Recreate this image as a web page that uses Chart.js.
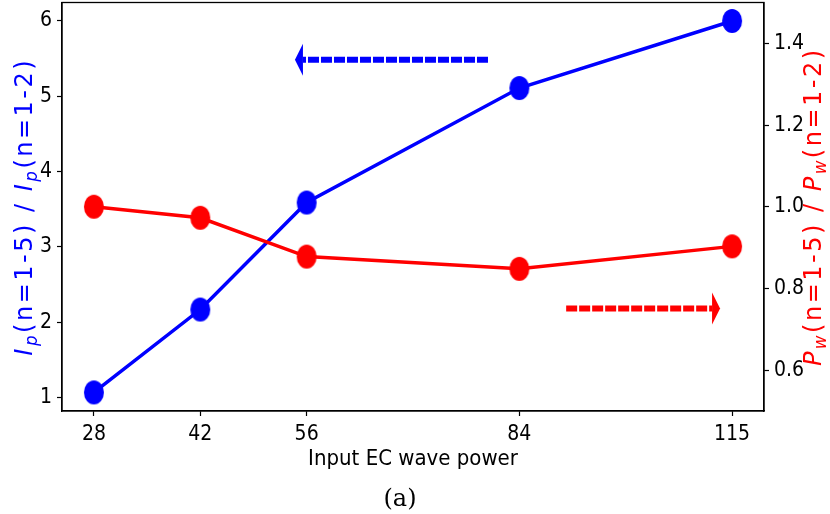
<!DOCTYPE html>
<html>
<head>
<meta charset="utf-8">
<script src="https://cdn.jsdelivr.net/npm/chart.js@4.4.1/dist/chart.umd.min.js"></script>
<style>
  body { margin: 0; background: #fff; overflow: hidden; }
  #wrap { position: relative; width: 830px; height: 514px; overflow: hidden; }
  #powerChart { position: absolute; left: 0; top: -5px; }
</style>
</head>
<body>
<div id="wrap"><canvas id="powerChart" width="830" height="519"></canvas></div>
<script>
// data
const powerLabels = ['28', '42', '56', '84', '115'];
const powerPos = [0, 1, 2, 4, 6];           // uneven spacing as in the figure
const ipRatio = [1.07, 2.17, 3.59, 5.11, 6.0];
const pwRatio = [1.0, 0.973, 0.878, 0.848, 0.903];
const leftTicks = [1, 2, 3, 4, 5, 6];
const rightTicks = [0.6, 0.8, 1.0, 1.2, 1.4];

// arrow annotations (data units)
const blueArrowX = [3.705, 1.89];
const blueArrowY = 5.484;
const redArrowX = [4.44, 5.887];
const redArrowY = 0.751;

const narrow = '"DejaVu Sans Condensed", "Liberation Sans Narrow", "DejaVu Sans"';
const sans = '"DejaVu Sans"';
const shiftY = 5; // canvas sits 5px above the page top

const makeDot = (color) => {
  let c = document.createElement('canvas');
  c.width = 22;
  c.height = 26;
  let g = c.getContext('2d');
  g.fillStyle = color;
  g.beginPath();
  g.ellipse(11, 13, 10, 12, 0, 0, Math.PI * 2);
  g.fill();
  return c;
};

const toPoints = (ys) => powerPos.map((x, i) => ({x: x, y: ys[i]}));

// draws mathtext-like label: pieces of [text, italic, subscript]
const drawMixed = (ctx, pieces, cx, cy, size, color) => {
  ctx.save();
  ctx.translate(cx, cy);
  ctx.rotate(-Math.PI / 2);
  ctx.fillStyle = color;
  ctx.textBaseline = 'alphabetic';
  ctx.letterSpacing = '2.5px';
  let fontFor = (p) => (p[1] ? 'oblique ' : '') + (p[2] ? size * 0.7 : size) + 'px ' + sans;
  let total = 0;
  pieces.forEach(p => { ctx.font = fontFor(p); total += ctx.measureText(p[0]).width; });
  let x = -total / 2;
  let base = size * 0.36;
  pieces.forEach(p => {
    ctx.font = fontFor(p);
    ctx.fillText(p[0], x, base + (p[2] ? size * 0.22 : 0));
    x += ctx.measureText(p[0]).width;
  });
  ctx.restore();
};

const drawArrow = (ctx, x0, x1, y, color) => {
  let dir = x1 > x0 ? 1 : -1;
  let headLen = 8;
  ctx.save();
  ctx.strokeStyle = color;
  ctx.fillStyle = color;
  ctx.lineWidth = 6;
  ctx.setLineDash([11, 2]);
  ctx.beginPath();
  ctx.moveTo(x0, y);
  ctx.lineTo(x1 - dir * headLen, y);
  ctx.stroke();
  ctx.setLineDash([]);
  ctx.beginPath();
  ctx.moveTo(x1, y);
  ctx.lineTo(x1 - dir * headLen, y - 16);
  ctx.lineTo(x1 - dir * headLen, y + 16);
  ctx.closePath();
  ctx.fill();
  ctx.restore();
};

const extrasPlugin = {
  id: 'extras',
  afterDatasetsDraw(chart) {
    let {ctx, scales} = chart;
    drawArrow(ctx, scales.x.getPixelForValue(blueArrowX[0]), scales.x.getPixelForValue(blueArrowX[1]),
      scales.y.getPixelForValue(blueArrowY), '#0000ff');
    drawArrow(ctx, scales.x.getPixelForValue(redArrowX[0]), scales.x.getPixelForValue(redArrowX[1]),
      scales.y1.getPixelForValue(redArrowY), '#ff0000');
  },
  afterDraw(chart) {
    let {ctx, chartArea} = chart;
    ctx.save();
    ctx.strokeStyle = '#000';
    ctx.lineWidth = 1.3;
    ctx.strokeRect(chartArea.left, chartArea.top, chartArea.right - chartArea.left, chartArea.bottom - chartArea.top);

    let mid = (chartArea.left + chartArea.right) / 2;
    ctx.fillStyle = '#000';
    ctx.textAlign = 'center';
    ctx.textBaseline = 'alphabetic';
    ctx.font = '22px ' + narrow;
    ctx.fillText('Input EC wave power', mid, 465 + shiftY);
    ctx.font = '24px "DejaVu Serif", "Liberation Serif", serif';
    ctx.fillText('(a)', mid - 13, 506 + shiftY);
    ctx.restore();

    let midY = (chartArea.top + chartArea.bottom) / 2;
    drawMixed(ctx, [['I', true, false], ['p', true, true], ['(n=1-5) / ', false, false],
      ['I', true, false], ['p', true, true], ['(n=1-2)', false, false]], 23, midY, 24, '#0000ff');
    drawMixed(ctx, [['P', true, false], ['w', true, true], ['(n=1-5) / ', false, false],
      ['P', true, false], ['w', true, true], ['(n=1-2)', false, false]], 812, midY, 24, '#ff0000');
  }
};

const axisGrid = {drawOnChartArea: false, color: '#000', tickLength: 5, tickWidth: 1.2};
const axisBorder = {color: '#000', width: 1.3};
const noPadY = (s, w) => { s.width = w; s.paddingTop = 0; s.paddingBottom = 0; };

new Chart(document.getElementById('powerChart'), {
  type: 'line',
  data: {
    datasets: [
      {
        label: 'P_w ratio',
        data: toPoints(pwRatio),
        yAxisID: 'y1',
        borderColor: '#ff0000',
        backgroundColor: '#ff0000',
        borderWidth: 3.5,
        pointStyle: makeDot('#ff0000'),
        tension: 0
      },
      {
        label: 'I_p ratio',
        data: toPoints(ipRatio),
        yAxisID: 'y',
        borderColor: '#0000ff',
        backgroundColor: '#0000ff',
        borderWidth: 3.5,
        pointStyle: makeDot('#0000ff'),
        tension: 0
      }
    ]
  },
  options: {
    responsive: false,
    devicePixelRatio: 1,
    animation: false,
    events: [],
    layout: {padding: {top: 0, left: 0, right: 0, bottom: 0}},
    plugins: {legend: {display: false}, tooltip: {enabled: false}},
    scales: {
      x: {
        type: 'linear',
        position: 'bottom',
        min: -0.3,
        max: 6.3,
        afterBuildTicks: (s) => { s.ticks = powerPos.map(v => ({value: v})); },
        afterFit: (s) => { s.height = 103; s.paddingLeft = 0; s.paddingRight = 0; },
        ticks: {
          color: '#000',
          padding: 6,
          maxRotation: 0,
          autoSkip: false,
          font: {family: narrow, size: 21},
          callback: (v) => powerLabels[powerPos.indexOf(v)]
        },
        grid: axisGrid,
        border: axisBorder
      },
      y: {
        position: 'left',
        min: 0.823,
        max: 6.245,
        afterBuildTicks: (s) => { s.ticks = leftTicks.map(v => ({value: v})); },
        afterFit: (s) => noPadY(s, 62),
        ticks: {color: '#000', padding: 5, font: {family: narrow, size: 21}},
        grid: axisGrid,
        border: axisBorder
      },
      y1: {
        position: 'right',
        min: 0.5,
        max: 1.5,
        afterBuildTicks: (s) => { s.ticks = rightTicks.map(v => ({value: v})); },
        afterFit: (s) => noPadY(s, 66),
        ticks: {color: '#000', padding: 5, font: {family: narrow, size: 21},
          callback: (v) => v.toFixed(1)},
        grid: axisGrid,
        border: axisBorder
      }
    }
  },
  plugins: [extrasPlugin]
});
</script>
</body>
</html>
